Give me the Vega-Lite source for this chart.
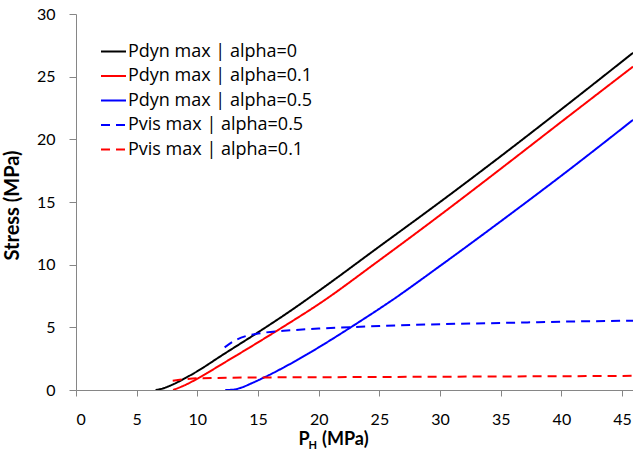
{
  "$schema": "https://vega.github.io/schema/vega-lite/v6.json",
  "width": 557,
  "height": 376,
  "autosize": {"type": "none"},
  "padding": {"left": 76, "top": 14, "right": 0, "bottom": 62},
  "background": "white",
  "title": {"text": "(MPa)", "orient": "bottom", "anchor": "start", "frame": "group", "dx": 246, "offset": -19, "font": "Lato", "fontSize": 18, "fontWeight": "bold", "color": "#000000", "baseline": "top"},
  "config": {
    "view": {"stroke": null},
    "font": "Lato",
    "axis": {"grid": false, "domainColor": "#868686", "tickColor": "#868686", "labelColor": "#000000", "labelFont": "Lato", "labelFontSize": 16, "titleFont": "Lato", "titleFontSize": 18, "titleFontWeight": "bold", "titleColor": "#000000", "domainWidth": 1, "tickWidth": 1},
    "legend": {"labelFont": "Open Sans", "labelFontSize": 18, "labelColor": "#000000", "labelLimit": 400}
  },
  "data": {"values": [
    {"series": "Pdyn max | alpha=0", "x": 6.56, "y": 0},
    {"series": "Pdyn max | alpha=0", "x": 7, "y": 0.08},
    {"series": "Pdyn max | alpha=0", "x": 8, "y": 0.45},
    {"series": "Pdyn max | alpha=0", "x": 9, "y": 0.95},
    {"series": "Pdyn max | alpha=0", "x": 10, "y": 1.5},
    {"series": "Pdyn max | alpha=0", "x": 12, "y": 2.75},
    {"series": "Pdyn max | alpha=0", "x": 15, "y": 4.6},
    {"series": "Pdyn max | alpha=0", "x": 17.5, "y": 6.2},
    {"series": "Pdyn max | alpha=0", "x": 20, "y": 7.9},
    {"series": "Pdyn max | alpha=0", "x": 25, "y": 11.45},
    {"series": "Pdyn max | alpha=0", "x": 30, "y": 15.0},
    {"series": "Pdyn max | alpha=0", "x": 35, "y": 18.65},
    {"series": "Pdyn max | alpha=0", "x": 40, "y": 22.4},
    {"series": "Pdyn max | alpha=0", "x": 45.9, "y": 26.9},
    {"series": "Pdyn max | alpha=0.1", "x": 8.0, "y": 0},
    {"series": "Pdyn max | alpha=0.1", "x": 9, "y": 0.4},
    {"series": "Pdyn max | alpha=0.1", "x": 10, "y": 0.9},
    {"series": "Pdyn max | alpha=0.1", "x": 12, "y": 2.05},
    {"series": "Pdyn max | alpha=0.1", "x": 15, "y": 3.8},
    {"series": "Pdyn max | alpha=0.1", "x": 17.5, "y": 5.3},
    {"series": "Pdyn max | alpha=0.1", "x": 20, "y": 6.85},
    {"series": "Pdyn max | alpha=0.1", "x": 25, "y": 10.35},
    {"series": "Pdyn max | alpha=0.1", "x": 30, "y": 13.95},
    {"series": "Pdyn max | alpha=0.1", "x": 35, "y": 17.65},
    {"series": "Pdyn max | alpha=0.1", "x": 40, "y": 21.4},
    {"series": "Pdyn max | alpha=0.1", "x": 45.9, "y": 25.8},
    {"series": "Pdyn max | alpha=0.5", "x": 12.3, "y": 0},
    {"series": "Pdyn max | alpha=0.5", "x": 13, "y": 0.03},
    {"series": "Pdyn max | alpha=0.5", "x": 13.5, "y": 0.15},
    {"series": "Pdyn max | alpha=0.5", "x": 14.5, "y": 0.55},
    {"series": "Pdyn max | alpha=0.5", "x": 15.5, "y": 1.0},
    {"series": "Pdyn max | alpha=0.5", "x": 17.5, "y": 2.0},
    {"series": "Pdyn max | alpha=0.5", "x": 20, "y": 3.4},
    {"series": "Pdyn max | alpha=0.5", "x": 22.8, "y": 5.1},
    {"series": "Pdyn max | alpha=0.5", "x": 26.1, "y": 7.2},
    {"series": "Pdyn max | alpha=0.5", "x": 30, "y": 9.9},
    {"series": "Pdyn max | alpha=0.5", "x": 35.75, "y": 14.0},
    {"series": "Pdyn max | alpha=0.5", "x": 40, "y": 17.1},
    {"series": "Pdyn max | alpha=0.5", "x": 45.9, "y": 21.55},
    {"series": "Pvis max | alpha=0.5", "x": 12.25, "y": 3.4},
    {"series": "Pvis max | alpha=0.5", "x": 13, "y": 3.9},
    {"series": "Pvis max | alpha=0.5", "x": 14, "y": 4.3},
    {"series": "Pvis max | alpha=0.5", "x": 15, "y": 4.5},
    {"series": "Pvis max | alpha=0.5", "x": 17.67, "y": 4.76},
    {"series": "Pvis max | alpha=0.5", "x": 20, "y": 4.9},
    {"series": "Pvis max | alpha=0.5", "x": 25, "y": 5.1},
    {"series": "Pvis max | alpha=0.5", "x": 30, "y": 5.25},
    {"series": "Pvis max | alpha=0.5", "x": 35, "y": 5.35},
    {"series": "Pvis max | alpha=0.5", "x": 40, "y": 5.45},
    {"series": "Pvis max | alpha=0.5", "x": 45.9, "y": 5.53},
    {"series": "Pvis max | alpha=0.1", "x": 7.97, "y": 0.74},
    {"series": "Pvis max | alpha=0.1", "x": 9, "y": 0.86},
    {"series": "Pvis max | alpha=0.1", "x": 10, "y": 0.93},
    {"series": "Pvis max | alpha=0.1", "x": 15, "y": 1.0},
    {"series": "Pvis max | alpha=0.1", "x": 20, "y": 1.02},
    {"series": "Pvis max | alpha=0.1", "x": 30, "y": 1.06},
    {"series": "Pvis max | alpha=0.1", "x": 40, "y": 1.1},
    {"series": "Pvis max | alpha=0.1", "x": 45.9, "y": 1.13}
  ]},
  "layer": [
    {
      "mark": {"type": "line", "strokeWidth": 2, "clip": true, "interpolate": "monotone"},
      "encoding": {
        "x": {"field": "x", "type": "quantitative", "scale": {"domain": [0, 45.9], "nice": false, "zero": false},
          "axis": {"orient": "bottom", "values": [0, 5, 10, 15, 20, 25, 30, 35, 40, 45], "tickSize": 6, "labelPadding": 15, "title": "P", "titleFontSize": 18, "titleX": 222, "titleAnchor": "start", "titleAlign": "left", "titleY": 54, "titleBaseline": "alphabetic"}},
        "y": {"field": "y", "type": "quantitative", "scale": {"domain": [0, 30], "nice": false},
          "axis": {"values": [0, 5, 10, 15, 20, 25, 30], "tickSize": 7, "labelPadding": 14, "title": "Stress (MPa)", "titleFontSize": 20, "titleX": -54, "titleY": 191, "titleAlign": "center"}},
        "color": {"field": "series", "type": "nominal",
          "scale": {"domain": ["Pdyn max | alpha=0", "Pdyn max | alpha=0.1", "Pdyn max | alpha=0.5", "Pvis max | alpha=0.5", "Pvis max | alpha=0.1"], "range": ["#000000", "#FF0000", "#0000FF", "#0000FF", "#FF0000"]},
          "legend": {"title": null, "orient": "none", "legendX": 24, "legendY": 24, "symbolType": "stroke", "symbolSize": 625, "symbolStrokeWidth": 2, "labelFont": "Open Sans", "labelFontSize": 18, "labelOffset": 1, "rowPadding": 1.5, "padding": 0}},
        "strokeDash": {"field": "series", "type": "nominal",
          "scale": {"domain": ["Pdyn max | alpha=0", "Pdyn max | alpha=0.1", "Pdyn max | alpha=0.5", "Pvis max | alpha=0.5", "Pvis max | alpha=0.1"], "range": [[1, 0], [1, 0], [1, 0], [9, 6], [9, 6]]},
          "legend": {"title": null, "orient": "none", "legendX": 24, "legendY": 24, "symbolType": "stroke", "symbolSize": 625, "symbolStrokeWidth": 2, "labelFont": "Open Sans", "labelFontSize": 18, "labelOffset": 1, "rowPadding": 1.5, "padding": 0}}
      }
    },
    {
      "mark": {"type": "point", "opacity": 0},
      "encoding": {
        "x": {"field": "x", "type": "quantitative", "scale": {"domain": [0, 45.9], "nice": false, "zero": false},
          "axis": {"orient": "bottom", "labels": false, "ticks": false, "domain": false, "title": "H", "titleFontSize": 11, "titleX": 232, "titleAnchor": "start", "titleAlign": "left", "titleY": 58, "titleBaseline": "alphabetic"}},
        "y": {"field": "y", "type": "quantitative"}
      }
    }
  ],
  "resolve": {"axis": {"x": "independent"}}
}
